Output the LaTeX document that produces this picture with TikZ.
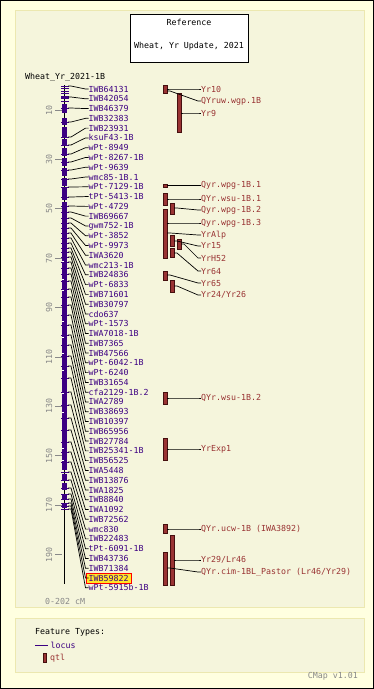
\documentclass[tikz,border=0pt]{standalone}
\usepackage{fontspec}
\newfontfamily\cmapfont{DejaVu Sans Mono}
\usetikzlibrary{calc}
\definecolor{OuterClr}{RGB}{255,255,224}
\definecolor{PanelClr}{RGB}{245,245,220}
\definecolor{PanelLine}{RGB}{236,232,176}
\definecolor{LocusClr}{RGB}{60,0,130}
\definecolor{QtlClr}{RGB}{153,51,51}
\definecolor{QtlLine}{RGB}{70,15,15}
\definecolor{TickClr}{RGB}{136,136,136}
\definecolor{HiliteClr}{RGB}{255,230,40}

\begin{document}
\begin{tikzpicture}[x=1pt,y=-1pt,
  lbl/.style={font=\cmapfont\fontsize{8.3}{9}\selectfont,inner sep=0pt,anchor=west},
  locus/.style={lbl,text=LocusClr},
  qtllbl/.style={lbl,text=QtlClr},
  conn/.style={black,line width=0.7pt},
  qtlbar/.style={fill=QtlClr,draw=QtlLine,line width=0.5pt},
  axtick/.style={TickClr,line width=0.7pt}]
\useasboundingbox (0,0) rectangle (374,689);

\fill[OuterClr] (0,0) rectangle (374,689);
\draw[black,line width=1.2pt] (0.6,0.6) rectangle (373.4,688.4);
\draw[fill=PanelClr,draw=PanelLine,line width=1pt] (15,10) rectangle (364,607);
\draw[fill=PanelClr,draw=PanelLine,line width=1pt] (15,618) rectangle (364,672);

\node[draw,fill=white,line width=0.8pt,minimum width=118pt,minimum height=48pt,inner sep=0pt] (refbox) at (189,38) {};
\node[lbl,anchor=center] (reftitle) at (189,22.3) {Reference};
\node[lbl,anchor=center] (refname) at (189,46) {Wheat, Yr Update, 2021};
\node[lbl] (maptitle) at (25,77) {Wheat\_Yr\_2021-1B};

% chromosome
\draw[black,line width=1.5pt] (64.5,85) -- (64.5,584);
\foreach \ya/\yb in {104/113,118/125,127/137,139/146,148/156,158/166,168/176,178/186,188/200,202/470,474/480,483/490,494/500,503/508}
  \fill[LocusClr] (62,\ya) rectangle (67,\yb);
\foreach \y in {86,88.5,91,93.5,96,98.5,101}
  \draw[LocusClr,line width=1pt] (61,\y) -- (69,\y);
\foreach \y in {243,261,279,290,305,321,337,353,370,393,412,430,448,460}
  \draw[white,line width=0.6pt] (62,\y) -- (64,\y);

% axis
\foreach \v in {10,30,...,190}{
  \draw[axtick] (55,{85.3+2.47*\v}) -- (62,{85.3+2.47*\v});
  \node[lbl,anchor=center,rotate=90,text=TickClr] (t\v) at (49,{85.3+2.47*\v}) {\v};
}
\node[lbl,text=TickClr] (range) at (45,601) {0-202 cM};

% loci
\draw[red,fill=HiliteClr,line width=0.6pt] (86,573.3) rectangle (131.5,583);
\foreach \name/\cy [count=\i from 0] in {IWB64131/86,IWB42054/97,IWB46379/108,IWB32383/122,IWB23931/137,ksuF43-1B/145,wPt-8949/154,wPt-8267-1B/162,wPt-9639/170,wmc85-1B.1/179,wPt-7129-1B/187,tPt-5413-1B/197,wPt-4729/206,IWB69667/212,gwm752-1B/218,wPt-3852/223,wPt-9973/228,IWA3620/233,wmc213-1B/238,IWB24836/243,wPt-6833/248,IWB71601/252,IWB30797/257,cdo637/262,wPt-1573/268,IWA7018-1B/274,IWB7365/281,IWB47566/289,wPt-6042-1B/297,wPt-6240/305,IWB31654/315,cfa2129-1B.2/325,IWA2789/335,IWB38693/345,IWB10397/356,IWB65956/366,IWB27784/378,IWB25341-1B/392,IWB56525/405,IWA5448/418,IWB13876/430,IWA1825/442,IWB8840/452,IWA1092/462,IWB72562/472,wmc830/480,IWB22483/488,tPt-6091-1B/494,IWB43736/499,IWB71384/503,IWB59822/506,wPt-5915b-1B/509}{
  \draw[LocusClr,line width=1pt] (61,\cy) -- (69,\cy);
  \coordinate (c\i) at (68,\cy);
  \node[locus] (l\i) at (88.5,{89+9.78*\i}) {\name};
  \draw[conn] (c\i) -- ++(3,0) -- ($(l\i.west)+(-3,0)$) -- (l\i.west);
}

% qtl
\foreach \x/\ya/\yb in {163/85/93,177/93/132,163/184/187.5,163/193/205,170/203/214,163/209/258,170/235/246,177/239/249,170/248/257,163/271/280,170/280/292,163/392/404,163/438/460,163/524/533,170/535/585,163/552/585}
  \draw[qtlbar] (\x,\ya) rectangle (\x+4,\yb);
\foreach \name/\ly/\fx/\fy [count=\j] in {Yr10/89/167/89,QYruw.wgp.1B/101/167/91,Yr9/113/181/113,Qyr.wpg-1B.1/185.5/167/185.5,QYr.wsu-1B.1/199/167/199,Qyr.wpg-1B.2/210/174/208,Qyr.wpg-1B.3/223/167/223,YrAlp/235/167/233,Yr15/246/174/241,YrH52/258/181/244,Yr64/271/174/253,Yr65/283/167/275,{Yr24/Yr26}/295/174/286,QYr.wsu-1B.2/398/167/398,YrExp1/449/167/449,{QYr.ucw-1B (IWA3892)}/529/167/529,{Yr29/Lr46}/560/174/560,{QYr.cim-1BL\_Pastor (Lr46/Yr29)}/572/167/568}{
  \coordinate (f\j) at (\fx,\fy);
  \node[qtllbl] (q\j) at (201,\ly) {\name};
  \draw[conn] (f\j) -- ++(3,0) -- ($(q\j.west)+(-3,0)$) -- (q\j.west);
}

% legend
\node[lbl,text=black] (ftypes) at (35,632) {Feature Types:};
\coordinate (legline) at (35,645);
\node[locus] (leglocus) at (50.5,645) {locus};
\draw[LocusClr,line width=0.8pt] (legline) -- ($(leglocus.west)+(-2.5,0)$);
\draw[qtlbar] (43,653) rectangle (46,662);
\node[qtllbl] (legqtl) at (50,658) {qtl};
\node[lbl,anchor=east,text=TickClr] (version) at (358,676) {CMap v1.01};
\end{tikzpicture}
\end{document}
